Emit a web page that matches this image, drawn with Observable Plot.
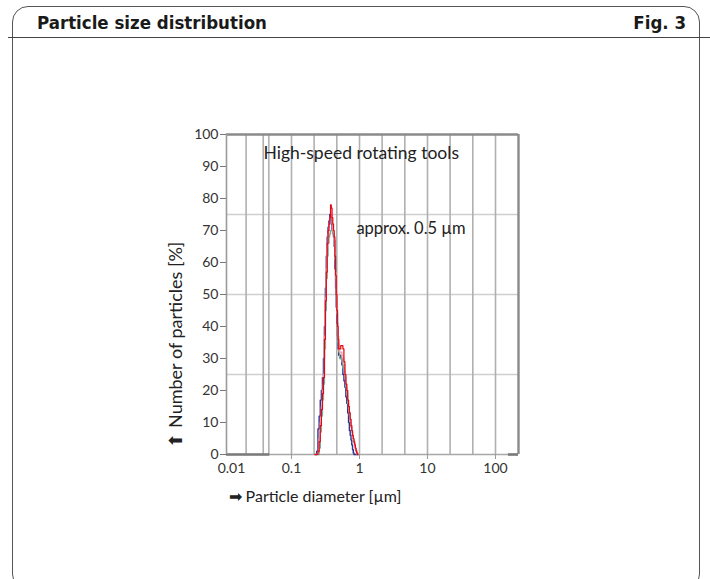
<!DOCTYPE html>
<html><head><meta charset="utf-8">
<script src="https://cdn.jsdelivr.net/npm/d3@7"></script>
<script src="https://cdn.jsdelivr.net/npm/@observablehq/plot@0.6"></script>
<style>
html,body{margin:0;padding:0;background:#fff;width:710px;height:579px;overflow:hidden;}
#chart{position:absolute;left:0;top:0;}
.box{position:absolute;left:12px;top:6px;width:688px;height:584px;border:1.5px solid #555;border-radius:16px;box-sizing:border-box;}
.hline{position:absolute;left:8px;top:37px;width:702px;height:0;border-top:1.3px solid #444;}
.hd{position:absolute;top:12px;font:bold 18.5px "Liberation Sans Narrow","DejaVu Sans Condensed","DejaVu Sans",sans-serif;font-stretch:condensed;color:#1a1a1a;line-height:21px;}
</style></head>
<body>
<div id="chart"></div>
<div class="box"></div>
<div class="hline"></div>
<div class="hd" style="left:37px">Particle size distribution</div>
<div class="hd" style="right:24px">Fig. 3</div>
<script>
// Particle diameter (µm), shared grid for all runs
const diameters = [0.22,0.23,0.24,0.25,0.26,0.27,0.28,0.29,0.30,0.31,0.32,0.33,0.34,0.35,0.36,0.37,0.38,0.39,0.40,0.41,0.42,0.43,0.44,0.45,0.46,0.47,0.48,0.49,0.50,0.52,0.54,0.56,0.58,0.60,0.62,0.64,0.66,0.68,0.70,0.72,0.74,0.76,0.78,0.80,0.82,0.84,0.86,0.88,0.90,0.92,0.94,0.96];
// Number of particles (%) per run
const runBlue  = [0,0,1,8,12,17,20,24,30,40,52,62,68,71,73,75,74,72,70,69,68,65,58,52,46,41,37,33,31,31,30,28,25,23,21,18,16,13,10,7.5,6,4.5,3,1.5,0.5,0,0,0,0,0,0,0];
const runGreen = [0,0,0,0,2,7,12,17,22,33,45,55,62,66,68,69,70,70,70,69,69,67,61,55,49,44,39,35,32,30,30,29,27,26,24,21,19,16,14,12,10,8.5,7,5.5,4.5,3.5,2.5,1.8,1,0.4,0,0];
const runPink  = [0,0,0,1,5,10,15,20,25,37,49,58,65,69,72,74,75,74,72,70,69,67,63,57,51,46,41,37,34,32,32,31,30,28,25,22,20,17,15,13,11,9,7,5.5,4.5,3.5,2.5,1.5,1,0.3,0,0];
const runRed   = [0,0,0,1,4,9,14,19,24,36,48,57,66,70,72,74,78,77,74,72,70,68,62,56,50,45,40,36,33,33,34,34,33,29,25,22,20,17,15,13,11,9,7.5,6,5,4,3,2,1.2,0.5,0,0];
const runNames  = ["Run 1","Run 2","Run 3","Run 4"];
const runColors = ["#2e3192","#7fa98f","#f3a0a6","#e30613"];
const runWidths = [1.4, 1.4, 1.3, 1.2];
const runValues = [runBlue, runGreen, runPink, runRed];
// zero readings outside the measured range
const zeroRuns = [{x1: 0.01107, x2: 0.048}, {x1: 155, x2: 217.9}];
// scales / ticks
const xDomain = [0.01107, 217.9];
const yDomain = [0, 100];
const xTicks = [0.1, 1, 10, 100];
const xFirstTick = [0.01];
const yTicks = [0,10,20,30,40,50,60,70,80,90,100];
const xGrid = [0.0215, 0.0384, 0.0464, 0.1, 0.215, 0.464, 1, 2.15, 4.64, 10, 21.5, 46.4, 100];
const yGrid = [25, 50, 75];
const titleNote = [{text: "High-speed rotating tools", x: 1.06, y: 94.2}];
const peakNote  = [{text: "approx. 0.5 µm", x: 0.90, y: 70.6}];

const rows = runNames.map((name, k) => diameters.map((d, i) => ({run: name, d, v: runValues[k][i]})));

const font = "Lato, 'Open Sans', sans-serif";
const marks = [
  Plot.ruleY(yGrid, {stroke: "#cfcfcf", strokeWidth: 1.3}),
  Plot.ruleX(xGrid, {stroke: "#b0b0b0", strokeWidth: 1.6}),
  Plot.ruleY([0], {stroke: "#a8a8a8", strokeWidth: 1.6}),
  Plot.ruleY(zeroRuns, {y: () => 0, x1: "x1", x2: "x2", stroke: "#7a7a7a", strokeWidth: 2.6}),
  Plot.ruleY([yDomain[1]], {stroke: "#8a8a8a", strokeWidth: 2.4}),
  Plot.ruleX([xDomain[0]], {stroke: "#9a9a9a", strokeWidth: 1.6}),
  Plot.ruleX([xDomain[1]], {stroke: "#8a8a8a", strokeWidth: 2.4}),
  ...rows.map((r, k) => Plot.line(r, {x: "d", y: "v", stroke: runColors[k], strokeWidth: runWidths[k], curve: "step"})),
  Plot.axisY({ticks: yTicks, tickSize: 6, tickPadding: 2, fontSize: 14, label: null, stroke: "#777", color: "#333"}),
  Plot.axisX({ticks: xTicks, tickSize: 5, tickPadding: 4, fontSize: 14, label: null, tickFormat: d => String(d), stroke: "#999", color: "#333"}),
  Plot.axisX({ticks: xFirstTick, tickSize: 0, tickPadding: 9, dx: 8, fontSize: 14, label: null, tickFormat: d => String(d), color: "#333"}),
  Plot.text(titleNote, {x: "x", y: "y", text: "text", textAnchor: "middle", fontSize: 17.5, fill: "#222", fontFamily: font}),
  Plot.text(peakNote, {x: "x", y: "y", text: "text", textAnchor: "start", fontSize: 16.5, fill: "#222", fontFamily: font}),
  Plot.text(["\u2B06 Number of particles [%]"], {frameAnchor: "bottom-left", dx: -50, dy: -7, rotate: -90, textAnchor: "start", lineAnchor: "middle", fontSize: 18, fill: "#222", fontFamily: font}),
  Plot.text(["\u27A1 Particle diameter [µm]"], {frameAnchor: "bottom-left", dx: 2, dy: 42, textAnchor: "start", lineAnchor: "middle", fontSize: 16, fill: "#222", fontFamily: font})
];

const chart = Plot.plot({
  width: 710, height: 579,
  marginLeft: 226, marginRight: 192, marginTop: 134, marginBottom: 125,
  style: {fontFamily: font, background: "transparent"},
  x: {type: "log", domain: xDomain},
  y: {domain: yDomain},
  marks
});
document.getElementById("chart").appendChild(chart);
</script>
</body></html>
